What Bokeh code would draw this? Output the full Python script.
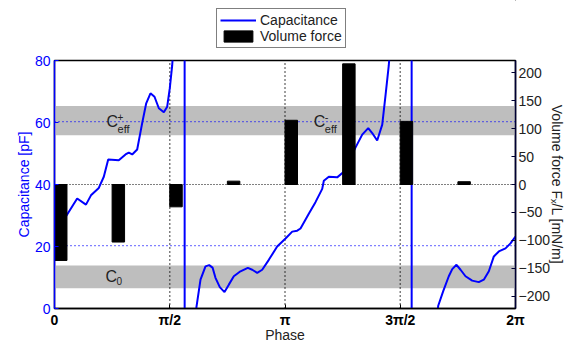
import math
from bokeh.plotting import figure
from bokeh.layouts import column
from bokeh.models import (Range1d, LinearAxis, FixedTicker, Legend, LegendItem, Label)
from bokeh.embed import file_html
from bokeh.resources import INLINE

# ---- data ----
phase = [0.000, 0.082, 0.164, 0.309, 0.429, 0.497, 0.604, 0.672, 0.732, 0.876,
         0.968, 1.013, 1.059, 1.127, 1.195, 1.250, 1.308, 1.363, 1.422, 1.490,
         1.536, 1.571, 1.604, 1.636, 1.690, 1.745, 1.772, 1.776, 1.799, 1.854,
         1.908, 1.935, 1.990, 2.058, 2.108, 2.154, 2.194, 2.253, 2.317, 2.376,
         2.444, 2.535, 2.635, 2.695, 2.763, 2.831, 2.921, 3.035, 3.149, 3.240,
         3.308, 3.353, 3.466, 3.557, 3.649, 3.671, 3.739, 3.853, 3.943, 4.021,
         4.102, 4.194, 4.276, 4.330, 4.398, 4.467, 4.512, 4.556, 4.607, 4.716,
         4.825, 4.866, 4.870, 4.920, 5.056, 5.152, 5.230, 5.298, 5.374, 5.421,
         5.479, 5.534, 5.602, 5.693, 5.783, 5.851, 5.920, 5.988, 6.056, 6.147,
         6.215, 6.283]
capacitance = [24.0, 27.0, 30.0, 35.5, 33.5, 36.5, 38.9, 42.5, 48.1, 47.8,
               49.7, 50.3, 49.7, 51.3, 59.8, 66.2, 69.4, 68.3, 64.6, 63.3,
               65.1, 71.0, 78.4, 90.0, 120.0, 170.0, 400.0, -400.0, -100.0, -30.0,
               -7.0, 0.5, 9.3, 13.6, 14.0, 13.2, 9.9, 6.9, 5.3, 7.7,
               10.4, 12.0, 13.1, 12.5, 11.5, 12.5, 15.7, 20.0, 22.6, 24.8,
               25.1, 25.8, 30.6, 34.3, 38.6, 41.2, 42.5, 42.3, 44.1, 48.0,
               51.9, 56.1, 58.2, 56.6, 54.2, 59.3, 68.8, 78.4, 95.0, 150.0,
               250.0, 400.0, -400.0, -150.0, -50.0, -15.0, 0.9, 5.6, 10.4, 12.7,
               14.1, 12.5, 10.4, 9.0, 8.5, 9.3, 12.0, 16.8, 18.4, 19.4,
               21.0, 23.2]

bar_left = [0.000, 0.785, 1.571, 2.356, 3.142, 3.927, 4.712, 5.498]
bar_width = 0.17
volume_force = [-136, -103, -40, 6, 115, 216, 113, 5]

band_bottom = [55.9, 6.5]
band_top = [65.3, 13.9]
ref_levels = [60.3, 20.3]          # dotted blue lines (pF)
zero_level = [40.0]                # dotted black line (force = 0)
phase_marks = [math.pi / 2, math.pi, 3 * math.pi / 2]

x_ticks = [0, math.pi / 2, math.pi, 3 * math.pi / 2, 2 * math.pi]
x_tick_labels = ["0", "π/2", "π", "3π/2", "2π"]
cap_ticks = [0, 20, 40, 60, 80]
force_ticks = [-200, -150, -100, -50, 0, 50, 100, 150, 200]
series_names = ["Capacitance", "Volume force"]

FONT = "Liberation Sans"
DARK = "#222222"
W = 580

p = figure(width=W, height=297, output_backend="svg", toolbar_location=None,
           x_range=Range1d(0, 2 * math.pi), y_range=Range1d(0, 80),
           min_border_left=54, min_border_right=65, min_border_top=12,
           min_border_bottom=32)
p.extra_y_ranges = {"force": Range1d(-222, 222)}
p.xgrid.visible = False
p.ygrid.visible = False
p.outline_line_color = "black"
p.outline_line_width = 1.5
p.background_fill_color = "white"
p.border_fill_color = "white"

# gray bands
p.quad(left=[0, 0], right=[2 * math.pi] * 2, bottom=band_bottom, top=band_top,
       fill_color="#bebebe", line_color=None)

# dotted reference lines
p.segment(x0=[0] * len(ref_levels), x1=[2 * math.pi] * len(ref_levels),
          y0=ref_levels, y1=ref_levels, line_color="blue", line_dash="1 3",
          line_width=1.2)
p.segment(x0=[0], x1=[2 * math.pi], y0=zero_level, y1=zero_level,
          line_color="black", line_dash="1 2", line_width=1.2)
p.segment(x0=phase_marks, x1=phase_marks, y0=[0] * 3, y1=[80] * 3,
          line_color="black", line_dash="1 3", line_width=1.5)

# capacitance line
p.line(phase, capacitance, line_color="blue", line_width=2)

# volume force bars
bar_center = [b + bar_width / 2 for b in bar_left]
p.vbar(x=bar_center, width=bar_width, top=volume_force, bottom=0,
       y_range_name="force", fill_color="black", line_color="black")

# band labels
def add_label(x, y, text, size, xo=0, yo=0):
    p.add_layout(Label(x=x, y=y, text=text, x_offset=xo, y_offset=yo,
                       text_font=FONT, text_font_size=size, text_color=DARK,
                       text_baseline="middle", text_align="left"))

add_label(0.709, 60.3, "C", "16px")
add_label(0.709, 60.3, "+", "10px", 11, 5)
add_label(0.709, 60.3, "eff", "11px", 11, -7)
add_label(3.534, 60.3, "C", "16px")
add_label(3.534, 60.3, "-", "11px", 11, 5)
add_label(3.534, 60.3, "eff", "11px", 11, -7)
add_label(0.696, 10.4, "C", "16px")
add_label(0.696, 10.4, "0", "10px", 11, -5)

# axes styling
xa = p.xaxis[0]
xa.ticker = FixedTicker(ticks=x_ticks)
xa.major_label_overrides = {t: l for t, l in zip(x_ticks, x_tick_labels)}
xa.axis_label = "Phase"
xa.axis_label_text_font = FONT
xa.axis_label_text_font_style = "normal"
xa.axis_label_text_font_size = "14px"
xa.axis_label_text_color = DARK
xa.axis_label_standoff = -4
xa.major_label_text_font = FONT
xa.major_label_text_font_style = "bold"
xa.major_label_text_font_size = "14px"
xa.major_label_text_color = "black"
xa.major_label_standoff = 3
xa.major_tick_in = 4
xa.major_tick_out = 0
xa.minor_tick_line_color = None
xa.axis_line_color = "black"
xa.axis_line_width = 1.5
xa.major_tick_line_color = "black"

ya = p.yaxis[0]
ya.ticker = FixedTicker(ticks=cap_ticks)
ya.axis_label = "Capacitance [pF]"
ya.axis_label_text_font = FONT
ya.axis_label_text_font_style = "normal"
ya.axis_label_text_font_size = "14px"
ya.axis_label_text_color = "blue"
ya.axis_label_standoff = 0
ya.major_label_text_font = FONT
ya.major_label_text_font_size = "14px"
ya.major_label_text_color = "blue"
ya.major_label_standoff = 4
ya.major_tick_in = 4
ya.major_tick_out = 0
ya.minor_tick_line_color = None
ya.axis_line_color = "blue"
ya.axis_line_width = 1.5
ya.major_tick_line_color = "blue"

ra = LinearAxis(y_range_name="force", ticker=FixedTicker(ticks=force_ticks))
ra.major_label_overrides = {t: ("−" + str(-t) if t < 0 else str(t)) for t in force_ticks}
ra.axis_label = "Volume force Fₓ/L [mN/m]"
ra.axis_label_text_font = FONT
ra.axis_label_text_font_style = "normal"
ra.axis_label_text_font_size = "14px"
ra.axis_label_text_color = DARK
ra.axis_label_standoff = -4
ra.major_label_text_font = FONT
ra.major_label_text_font_size = "14px"
ra.major_label_text_color = DARK
ra.major_label_standoff = 3
ra.major_tick_in = 4
ra.major_tick_out = 0
ra.minor_tick_line_color = None
ra.axis_line_color = "#000033"
ra.axis_line_width = 1.5
ra.major_tick_line_color = "#000033"
p.add_layout(ra, "right")

# ---- legend strip above the plot (proxy glyphs sit outside its view) ----
lg = figure(width=W, height=48, output_backend="svg", toolbar_location=None,
            x_range=Range1d(0, 1), y_range=Range1d(0, 1),
            min_border=0, min_border_left=0, min_border_right=0,
            min_border_top=0, min_border_bottom=0)
lg.axis.visible = False
lg.grid.visible = False
lg.outline_line_color = None
lg.background_fill_color = "white"
lg.border_fill_color = "white"
r_line = lg.line(x=[5, 6], y=[5, 6], line_color="blue", line_width=2)
r_bar = lg.vbar(x=[5], top=[6], bottom=5, width=0.1,
                fill_color="black", line_color="black")
legend = Legend(items=[LegendItem(label=series_names[0], renderers=[r_line]),
                       LegendItem(label=series_names[1], renderers=[r_bar])],
                location=(162, 0), orientation="vertical",
                label_text_font=FONT, label_text_font_size="14px",
                label_text_color=DARK, glyph_width=36, glyph_height=14,
                label_height=14, spacing=0, padding=3, margin=0,
                label_standoff=4, border_line_color="black",
                border_line_width=1, background_fill_color="white",
                background_fill_alpha=1)
lg.add_layout(legend, "center")

layout = column(lg, p, spacing=0)
open("out.html", "w").write(file_html(layout, INLINE))
